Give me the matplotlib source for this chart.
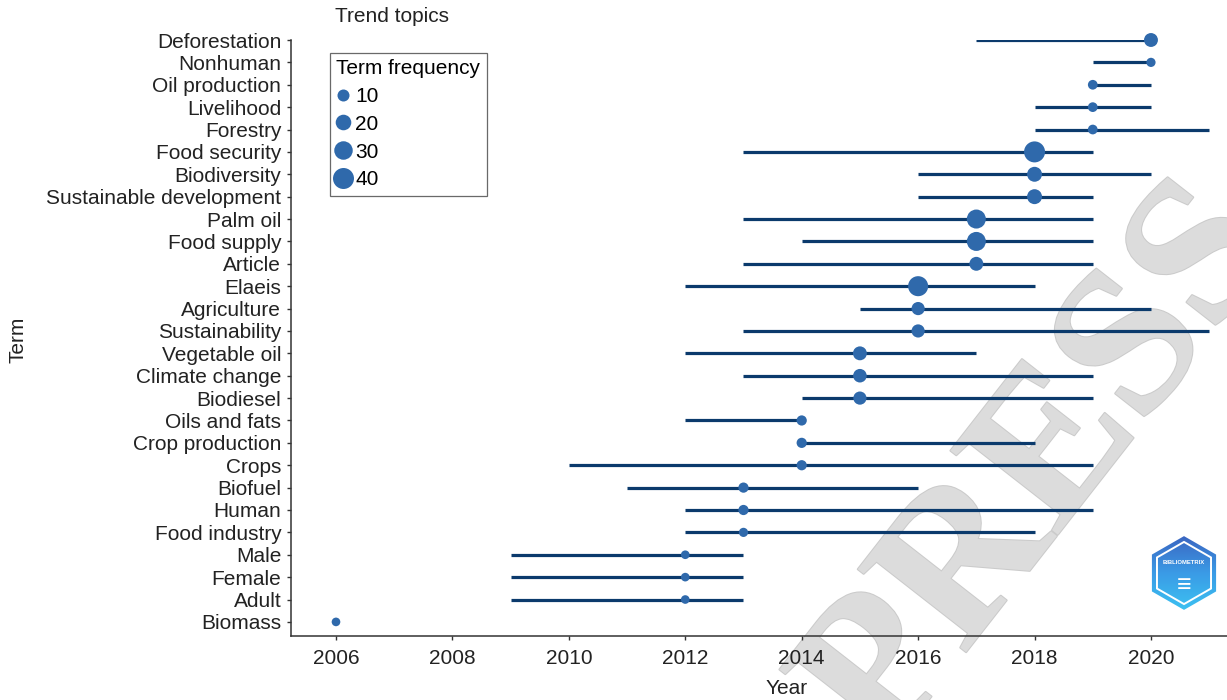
import numpy as np
import matplotlib
matplotlib.use("Agg")
import matplotlib.pyplot as plt
from matplotlib.patches import RegularPolygon
from matplotlib.lines import Line2D
import matplotlib.patheffects as pe

plt.rcParams['font.family'] = ['Liberation Sans', 'DejaVu Sans']

# trend topics: first year, median year, last year, term frequency
terms = ["Deforestation", "Nonhuman", "Oil production", "Livelihood", "Forestry",
         "Food security", "Biodiversity", "Sustainable development", "Palm oil",
         "Food supply", "Article", "Elaeis", "Agriculture", "Sustainability",
         "Vegetable oil", "Climate change", "Biodiesel", "Oils and fats",
         "Crop production", "Crops", "Biofuel", "Human", "Food industry",
         "Male", "Female", "Adult", "Biomass"]
year_start = [2017, 2019, 2019, 2018, 2018, 2013, 2016, 2016, 2013, 2014, 2013, 2012,
              2015, 2013, 2012, 2013, 2014, 2012, 2014, 2010, 2011, 2012, 2012,
              2009, 2009, 2009, 2006]
year_median = [2020, 2020, 2019, 2019, 2019, 2018, 2018, 2018, 2017, 2017, 2017, 2016,
               2016, 2016, 2015, 2015, 2015, 2014, 2014, 2014, 2013, 2013, 2013,
               2012, 2012, 2012, 2006]
year_end = [2020, 2020, 2020, 2020, 2021, 2019, 2020, 2019, 2019, 2019, 2019, 2018,
            2020, 2021, 2017, 2019, 2019, 2014, 2018, 2019, 2016, 2019, 2018,
            2013, 2013, 2013, 2006]
freq = [15, 4, 5, 5, 5, 40, 18, 18, 32, 32, 15, 36,
        13, 13, 15, 14, 13, 6, 6, 6, 6, 6, 4,
        3, 3, 3, 3]
legend_freq = [10, 20, 30, 40]

LINE = "#0b3a6c"
DOT = "#2f69ab"
FS = 15


def dot_size(f):
    # area-proportional size in points^2
    d_px = np.sqrt(45 + 9.9 * np.asarray(f, dtype=float))
    return (d_px * 0.72) ** 2


W, H = 1227, 700
fig = plt.figure(figsize=(W / 100, H / 100), dpi=100)
ax = fig.add_axes([291 / W, 1 - 636 / H, 1 - 291 / W, (636 - 40) / H])

y = np.arange(len(terms))[::-1]
ax.hlines(y, year_start, year_end, color=LINE, lw=2.3, zorder=2)
ax.scatter(year_median, y, s=dot_size(freq), color=DOT, zorder=3,
           clip_on=False, linewidths=0)

ax.set_xlim(2005.227, 2021.306)
ax.set_ylim(-0.63, len(terms) - 1)
ax.set_yticks(y)
ax.set_yticklabels(terms)
ax.set_xticks(np.arange(2006, 2021, 2))

for s in ("top", "right"):
    ax.spines[s].set_visible(False)
for s in ("left", "bottom"):
    ax.spines[s].set_color("#333333")
    ax.spines[s].set_linewidth(1.1)
ax.tick_params(axis="both", length=3, width=1, color="#333333",
               labelsize=FS, labelcolor="#222222")
ax.tick_params(axis="y", pad=4)
ax.tick_params(axis="x", pad=6)

fig.text(18 / W, 1 - 340 / H, "Term", rotation=90, ha="center", va="center",
         fontsize=FS, color="#222222")
fig.text(787 / W, 1 - 688 / H, "Year", ha="center", va="center",
         fontsize=FS, color="#222222")
fig.text(335 / W, 1 - 17 / H, "Trend topics", ha="left", va="center",
         fontsize=FS, color="#222222")

handles = [Line2D([], [], ls="", marker="o", markersize=np.sqrt(s), color=DOT,
                  markeredgewidth=0) for s in dot_size(legend_freq)]
leg = ax.legend(handles, [str(v) for v in legend_freq], title="Term frequency",
                loc="upper left", bbox_to_anchor=(330 / W, 1 - 53 / H),
                bbox_transform=fig.transFigure, frameon=True, fancybox=False,
                edgecolor="#444444", fontsize=FS, title_fontsize=FS,
                handlelength=0.6, handletextpad=0.3, labelspacing=0.42,
                borderpad=0.3, alignment="left", borderaxespad=0)
leg.get_frame().set_linewidth(0.9)

# faint watermark behind the data
ax.text(1045 / W, 1 - 470 / H, "PRESS", transform=fig.transFigure,
        rotation=52, ha="center", va="center", fontsize=150,
        family="Liberation Serif", fontweight="bold", color="#dcdcdc",
        zorder=1, clip_on=False,
        path_effects=[pe.withStroke(linewidth=1.5, foreground="#cbcbcb")])

# bibliometrix badge
lax = fig.add_axes([1145 / W, 1 - 613 / H, 78 / W, 80 / H])
lax.set_xlim(-1, 1)
lax.set_ylim(-1.03, 1.03)
lax.set_aspect("equal")
lax.axis("off")
hexa = RegularPolygon((0, 0), 6, radius=0.95, orientation=0,
                      facecolor="none", edgecolor="none")
lax.add_patch(hexa)
grad = np.linspace(0, 1, 100).reshape(-1, 1)
img = lax.imshow(grad, extent=(-1, 1, -1, 1), origin="upper", aspect="auto",
                 cmap=matplotlib.colors.LinearSegmentedColormap.from_list(
                     "badge", ["#3b63c0", "#3a9be6", "#3cc3f2"]))
img.set_clip_path(hexa)
lax.add_patch(RegularPolygon((0, 0), 6, radius=0.8, orientation=0,
                             facecolor="none", edgecolor="white", lw=1.4))
lax.text(0, 0.28, "BIBLIOMETRIX", ha="center", va="center", fontsize=4.2,
         color="white", fontweight="bold")
lax.text(0, -0.3, "\u2261", ha="center", va="center", fontsize=18,
         color="white", fontweight="bold")

fig.savefig("out.png", dpi=100)
